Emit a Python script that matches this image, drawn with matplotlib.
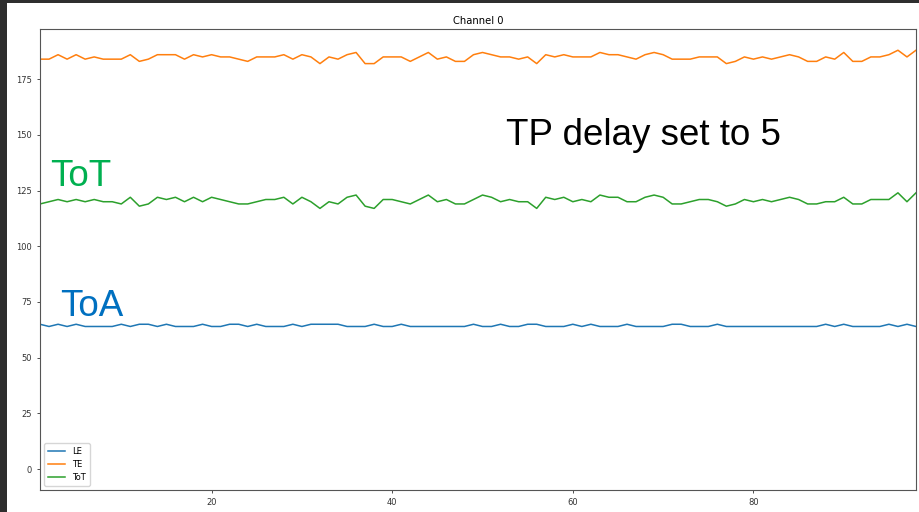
import numpy as np
import matplotlib
matplotlib.use("Agg")
import matplotlib.pyplot as plt
from matplotlib.patches import Rectangle

# Sample index (x axis)
samples = list(range(1, 99))

# Leading edge (ToA)
le = [65, 64, 65, 64, 65, 64, 64, 64, 64, 65,
      64, 65, 65, 64, 65, 64, 64, 64, 65, 64,
      64, 65, 65, 64, 65, 64, 64, 64, 65, 64,
      65, 65, 65, 65, 64, 64, 64, 65, 64, 64,
      65, 64, 64, 64, 64, 64, 64, 64, 65, 64,
      64, 65, 64, 64, 65, 65, 64, 64, 64, 65,
      64, 65, 64, 64, 64, 65, 64, 64, 64, 64,
      65, 65, 64, 64, 64, 65, 64, 64, 64, 64,
      64, 64, 64, 64, 64, 64, 64, 65, 64, 65,
      64, 64, 64, 64, 65, 64, 65, 64]

# Trailing edge
te = [184, 184, 186, 184, 186, 184, 185, 184, 184, 184,
      186, 183, 184, 186, 186, 186, 184, 186, 185, 186,
      185, 185, 184, 183, 185, 185, 185, 186, 184, 186,
      185, 182, 185, 184, 186, 187, 182, 182, 185, 185,
      185, 183, 185, 187, 184, 185, 183, 183, 186, 187,
      186, 185, 185, 184, 185, 182, 186, 185, 186, 185,
      185, 185, 187, 186, 186, 185, 184, 186, 187, 186,
      184, 184, 184, 185, 185, 185, 182, 183, 185, 184,
      185, 184, 185, 186, 185, 183, 183, 185, 184, 187,
      183, 183, 185, 185, 186, 188, 185, 188]

# Time over threshold
tot = [119, 120, 121, 120, 121, 120, 121, 120, 120, 119,
       122, 118, 119, 122, 121, 122, 120, 122, 120, 122,
       121, 120, 119, 119, 120, 121, 121, 122, 119, 122,
       120, 117, 120, 119, 122, 123, 118, 117, 121, 121,
       120, 119, 121, 123, 120, 121, 119, 119, 121, 123,
       122, 120, 121, 120, 120, 117, 122, 121, 122, 120,
       121, 120, 123, 122, 122, 120, 120, 122, 123, 122,
       119, 119, 120, 121, 121, 120, 118, 119, 121, 120,
       121, 120, 121, 122, 121, 119, 119, 120, 120, 122,
       119, 119, 121, 121, 121, 124, 120, 124]

series_names = ["LE", "TE", "ToT"]
x_ticks = [20, 40, 60, 80]
y_ticks = [0, 25, 50, 75, 100, 125, 150, 175]

W, H = 920, 512
fig = plt.figure(figsize=(W / 100, H / 100), dpi=100)
fig.patch.set_facecolor("white")

# dark window frame along the left and top edges
fig.patches.append(Rectangle((0, 0), 7 / W, 1, transform=fig.transFigure,
                             facecolor="#2e2e2e", edgecolor="none", zorder=0))
fig.patches.append(Rectangle((0, 1 - 3 / H), 1, 3 / H, transform=fig.transFigure,
                             facecolor="#2e2e2e", edgecolor="none", zorder=0))

ax = fig.add_axes([40 / W, 22 / H, 876 / W, 460.7 / H])
for name, vals in zip(series_names, [le, te, tot]):
    ax.plot(samples, vals, lw=1.1, label=name)

ax.set_xlim(1, 98)
ax.set_ylim(-9.4, 197.4)
ax.set_xticks(x_ticks)
ax.set_yticks(y_ticks)
ax.tick_params(labelsize=6, length=2.2, width=0.6, colors="#333333")
for s in ax.spines.values():
    s.set_linewidth(0.8)
    s.set_color("#555555")
ax.set_title("Channel 0", fontsize=7.2, pad=4)
ax.legend(loc="lower left", fontsize=6, handlelength=2.0, borderpad=0.5,
          labelspacing=0.45, framealpha=0.8)

big = dict(family="Liberation Sans", fontsize=26.5, va="baseline", ha="left")
fig.text(506 / W, 1 - 145 / H, "TP delay set to 5", color="black", **big)
fig.text(50 / W, 1 - 186 / H, "ToT", color="#00b050", **big)
fig.text(60 / W, 1 - 316 / H, "ToA", color="#0070c0", **big)

fig.savefig("out.png", dpi=100)
